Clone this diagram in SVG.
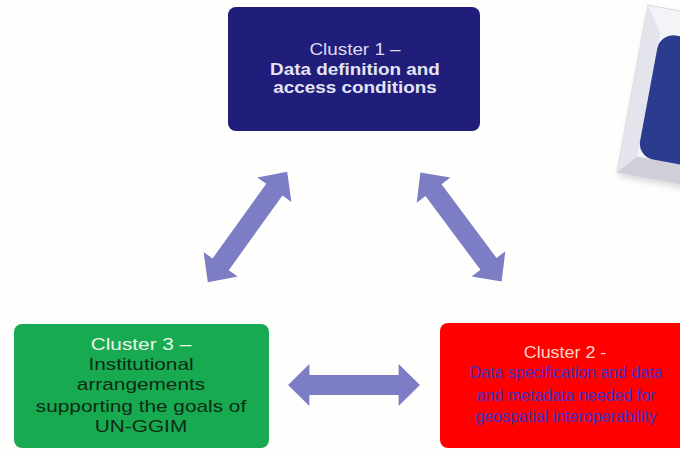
<svg xmlns="http://www.w3.org/2000/svg" width="680" height="452" viewBox="0 0 680 452">
<defs>
<style>
.t{font-family:"Liberation Sans",Arial,sans-serif;text-anchor:middle;font-size:16px}
.b{font-weight:bold}
.arr{fill:#7d7dc6}
</style>
<path id="dbl" d="M-68,0 L-46,-21 L-46,-10 L46,-10 L46,-21 L68,0 L46,21 L46,10 L-46,10 L-46,21 Z"/>
<filter id="sh" x="-20%" y="-20%" width="140%" height="140%"><feGaussianBlur stdDeviation="3"/></filter>
</defs>
<rect width="680" height="452" fill="#fefefc"/>

<g id="frame" transform="translate(648,5) rotate(10.5)">
<rect x="2" y="4" width="120" height="170" fill="#b8b8c0" opacity="0.5" filter="url(#sh)"/>
<rect x="0" y="0" width="120" height="170" fill="#f4f4f8" stroke="#d4d4dc" stroke-width="1"/>
<polygon points="0,0 17,25 17,151 0,170" fill="#e4e4ec"/>
<polygon points="0,170 17,151 120,151 120,170" fill="#cfcfd8"/>
<rect x="17" y="25" width="110" height="126" rx="16" fill="#2b3b8e"/>
</g>

<g id="cluster1">
<rect x="228" y="7" width="252" height="124" rx="8" fill="#211d7a"/>
<g transform="translate(355,0) scale(1.18,1)">
<text class="t" x="0" y="55" fill="#dcdcf0">Cluster 1 –</text>
<text class="t b" x="0" y="75" fill="#e4e4f4">Data definition and</text>
<text class="t b" x="0" y="93" fill="#e4e4f4">access conditions</text>
</g>
</g>

<g id="cluster2">
<rect x="440" y="323" width="260" height="125" rx="8" fill="#fe0000"/>
<g transform="translate(565,0) scale(1.12,1)">
<text class="t" x="0" y="358" fill="#ffd6c8">Cluster 2 -</text>
</g>
<text class="t" x="566" y="378" fill="#4430c8">Data specification and data</text>
<text class="t" x="566" y="401" fill="#4430c8">and metadata needed for</text>
<text class="t" x="566" y="422" fill="#4430c8">geospatial interoperability</text>
</g>

<g id="cluster3">
<rect x="14" y="324" width="255" height="124" rx="8" fill="#18aa50"/>
<g transform="translate(141,0) scale(1.3,1)">
<text class="t" x="0" y="350" fill="#e6f6ea">Cluster 3 –</text>
<text class="t" x="0" y="370" fill="#0c2a14">Institutional</text>
<text class="t" x="0" y="390" fill="#0c2a14">arrangements</text>
<text class="t" x="0" y="412" fill="#0c2a14">supporting the goals of</text>
<text class="t" x="0" y="432" fill="#0c2a14">UN-GGIM</text>
</g>
</g>

<g id="connectors" class="arr">
<use href="#dbl" transform="translate(247.5,227) rotate(-54.3)"/>
<use href="#dbl" transform="translate(461,227) rotate(53.3)"/>
<use href="#dbl" transform="translate(354,385) scale(0.97,1)"/>
</g>
</svg>
